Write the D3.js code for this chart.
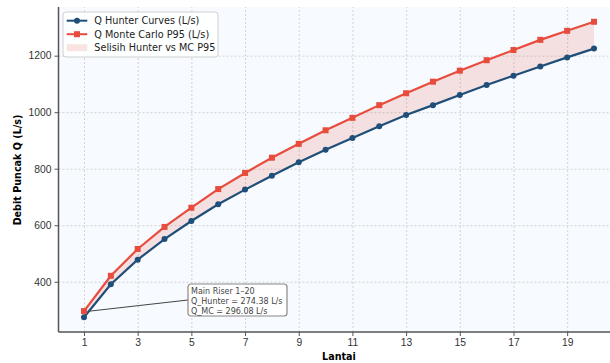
<!DOCTYPE html>
<html>
<head>
<meta charset="utf-8">
<script src="https://cdn.jsdelivr.net/npm/d3@7"></script>
<style>
  body { margin: 0; background: #fff; }
  svg { display: block; font-family: "DejaVu Sans", sans-serif; }
  .grid line { stroke: #c8c8c8; stroke-dasharray: 2,2; stroke-width: 0.8; }
  .grid path { display: none; }
  .axis path, .axis line { stroke: #555; }
  .axis text { fill: #333; font-size: 10.3px; }
</style>
</head>
<body>
<svg id="chart"></svg>
<script>
// data
const lantai = d3.range(1, 21)
const qHunter = [274.38, 391, 478, 551, 615, 674, 726, 775, 823, 867,
                 909, 950, 990, 1025, 1061, 1096, 1129, 1162, 1194, 1225]
const qMC = [296.08, 421, 516, 594, 662, 728, 785, 839, 888, 936,
             980, 1025, 1067, 1108, 1147, 1184, 1220, 1256, 1288, 1320]
const xTicks = [1, 3, 5, 7, 9, 11, 13, 15, 17, 19]
const yTicks = [400, 600, 800, 1000, 1200]

const width = 610
let dimensions = {
  width: width,
  height: 363,
  margin: { top: 7, right: -9.5, bottom: 31, left: 58.5 },
}
dimensions.boundedWidth = dimensions.width - dimensions.margin.left - dimensions.margin.right
dimensions.boundedHeight = dimensions.height - dimensions.margin.top - dimensions.margin.bottom

const blue = "#1f4e79"
const red = "#e74c3c"

function drawChart() {
  const svg = d3.select("#chart")
    .attr("width", dimensions.width)
    .attr("height", dimensions.height)

  const g = svg.append("g")
    .attr("transform", `translate(${dimensions.margin.left},${dimensions.margin.top})`)

  const yMin = d3.min(qHunter), yMax = d3.max(qMC)
  const pad = (yMax - yMin) * 0.05
  const x = d3.scaleLinear().domain([0.05, 20.95]).range([0, dimensions.boundedWidth])
  const y = d3.scaleLinear().domain([yMin - pad, yMax + pad]).range([dimensions.boundedHeight, 0])

  // plot background
  g.append("rect")
    .attr("width", dimensions.boundedWidth)
    .attr("height", dimensions.boundedHeight)
    .attr("fill", "#f7fafe")

  // grid
  g.append("g").attr("class", "grid")
    .attr("transform", `translate(0,${dimensions.boundedHeight})`)
    .call(d3.axisBottom(x).tickValues(xTicks).tickSize(-dimensions.boundedHeight).tickFormat(""))
  g.append("g").attr("class", "grid")
    .call(d3.axisLeft(y).tickValues(yTicks).tickSize(-dimensions.boundedWidth).tickFormat(""))

  const rows = lantai.map((l, i) => ({ l, h: qHunter[i], mc: qMC[i] }))

  // difference band
  g.append("path")
    .datum(rows)
    .attr("fill", red)
    .attr("fill-opacity", 0.15)
    .attr("d", d3.area().x(d => x(d.l)).y0(d => y(d.h)).y1(d => y(d.mc)))

  // lines
  const lineH = d3.line().x(d => x(d.l)).y(d => y(d.h))
  const lineMC = d3.line().x(d => x(d.l)).y(d => y(d.mc))
  g.append("path").datum(rows).attr("fill", "none").attr("stroke", blue).attr("stroke-width", 2.2).attr("d", lineH)
  g.append("path").datum(rows).attr("fill", "none").attr("stroke", red).attr("stroke-width", 2.2).attr("d", lineMC)

  g.selectAll(".ptH").data(rows).enter().append("circle")
    .attr("cx", d => x(d.l)).attr("cy", d => y(d.h)).attr("r", 3).attr("fill", blue)
  g.selectAll(".ptMC").data(rows).enter().append("rect")
    .attr("x", d => x(d.l) - 3).attr("y", d => y(d.mc) - 3)
    .attr("width", 6).attr("height", 6).attr("fill", red)

  // axes
  const xAxis = g.append("g").attr("class", "axis")
    .attr("transform", `translate(0,${dimensions.boundedHeight})`)
    .call(d3.axisBottom(x).tickValues(xTicks).tickSize(4).tickPadding(3))
  const yAxis = g.append("g").attr("class", "axis")
    .call(d3.axisLeft(y).tickValues(yTicks).tickSize(4).tickPadding(3).tickFormat(d3.format("d")))
  xAxis.select(".domain").attr("stroke-width", 1.5).attr("d", `M0,0H${dimensions.boundedWidth}`)
  yAxis.select(".domain").attr("stroke-width", 1.5).attr("d", `M0,0V${dimensions.boundedHeight}`)

  svg.append("text")
    .attr("x", dimensions.margin.left + x(10.5))
    .attr("y", 360)
    .attr("text-anchor", "middle")
    .style("font-weight", "bold").style("font-size", "9.6px")
    .text("Lantai")
  svg.append("text")
    .attr("transform", "translate(21,170) rotate(-90)")
    .attr("text-anchor", "middle")
    .style("font-weight", "bold").style("font-size", "9.6px")
    .text("Debit Puncak Q (L/s)")

  // annotation
  const bx = 188, by = 284
  g.append("line")
    .attr("x1", x(1) + 6).attr("y1", y(qMC[0]))
    .attr("x2", bx - dimensions.margin.left).attr("y2", by + 16 - dimensions.margin.top)
    .attr("stroke", "#444").attr("stroke-width", 1)
  const ann = svg.append("g").attr("transform", `translate(${bx},${by})`)
  ann.append("rect")
    .attr("width", 99).attr("height", 32).attr("rx", 3)
    .attr("fill", "#fff").attr("stroke", "#888").attr("stroke-width", 1.2)
  const annLines = ["Main Riser 1\u201320",
    `Q_Hunter = ${qHunter[0].toFixed(2)} L/s`,
    `Q_MC = ${qMC[0].toFixed(2)} L/s`]
  ann.selectAll("text").data(annLines).enter().append("text")
    .attr("x", 3).attr("y", (d, i) => 9.5 + i * 10)
    .style("font-size", "8px").attr("fill", "#444")
    .text(d => d)

  // legend
  const leg = svg.append("g").attr("transform", "translate(63,12)")
  leg.append("rect").attr("width", 155).attr("height", 45).attr("rx", 3)
    .attr("fill", "#fff").attr("fill-opacity", 0.85).attr("stroke", "#d0d0d0")
  const items = [
    { label: "Q Hunter Curves (L/s)", type: "circle", color: blue },
    { label: "Q Monte Carlo P95 (L/s)", type: "square", color: red },
    { label: "Selisih Hunter vs MC P95", type: "patch", color: red },
  ]
  items.forEach((it, i) => {
    const yy = 8.7 + i * 13.5
    const row = leg.append("g").attr("transform", `translate(0,${yy})`)
    if (it.type === "patch") {
      row.append("rect").attr("x", 3.7).attr("y", -3.5).attr("width", 20.6).attr("height", 7)
        .attr("fill", it.color).attr("fill-opacity", 0.15)
    } else {
      row.append("line").attr("x1", 3.7).attr("x2", 24.3).attr("stroke", it.color).attr("stroke-width", 2)
      if (it.type === "circle") row.append("circle").attr("cx", 14).attr("r", 3).attr("fill", it.color)
      else row.append("rect").attr("x", 11).attr("y", -3).attr("width", 6).attr("height", 6).attr("fill", it.color)
    }
    row.append("text").attr("x", 31.3).attr("y", 3.4)
      .style("font-size", "9.7px").attr("fill", "#222").text(it.label)
  })
}

drawChart()
</script>
</body>
</html>
